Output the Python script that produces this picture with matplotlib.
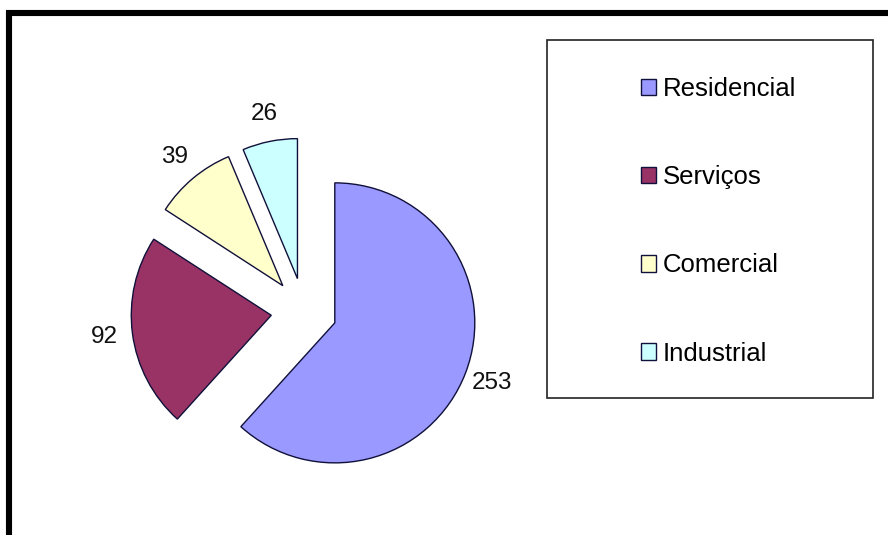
import matplotlib.pyplot as plt
from matplotlib.patches import Rectangle
from matplotlib.lines import Line2D

plt.rcParams['font.family'] = ['Liberation Sans', 'DejaVu Sans']

# dados
setores = ['Residencial', 'Serviços', 'Comercial', 'Industrial']
valores = [253, 92, 39, 26]
cores = ['#9999FF', '#993366', '#FFFFCC', '#CCFFFF']

W, H = 888, 535
fig = plt.figure(figsize=(W / 100, H / 100), dpi=100)
ax = fig.add_axes([0, 0, 1, 1])

# pizza com todas as fatias destacadas (explode em unidades de pixel aqui)
raio = 140
wedges, textos = ax.pie(valores, colors=cores, startangle=90, counterclock=False,
                        explode=[33] * 4, radius=raio, center=(304, H - 311),
                        labels=[str(v) for v in valores], labeldistance=1.2,
                        wedgeprops=dict(edgecolor='#10103a', linewidth=1.0),
                        textprops=dict(fontsize=17.5, color='#111111',
                                       ha='center', va='center'),
                        frame=True)
ax.set_xlim(0, W)
ax.set_ylim(0, H)
ax.set_aspect('equal')
ax.axis('off')

# caixa da legenda
ax.add_patch(Rectangle((547, H - 398), 326, 358, fill=False,
                       edgecolor='#222222', linewidth=1.2))
leg = ax.legend(wedges, setores, loc='upper left', frameon=False,
                bbox_to_anchor=(641 / W, 1 - 77 / H), bbox_transform=fig.transFigure,
                borderpad=0, borderaxespad=0, fontsize=18.5,
                handlelength=0.6, handleheight=0.6, handletextpad=0.25,
                labelspacing=2.5)

# moldura
fig.add_artist(Line2D([6 / W, 1], [1 - 13 / H, 1 - 13 / H], color='black',
                      linewidth=4.4, transform=fig.transFigure, solid_capstyle='butt'))
fig.add_artist(Line2D([9 / W, 9 / W], [0, 1 - 10 / H], color='black',
                      linewidth=4.4, transform=fig.transFigure, solid_capstyle='butt'))

fig.savefig('out.png', dpi=100)
